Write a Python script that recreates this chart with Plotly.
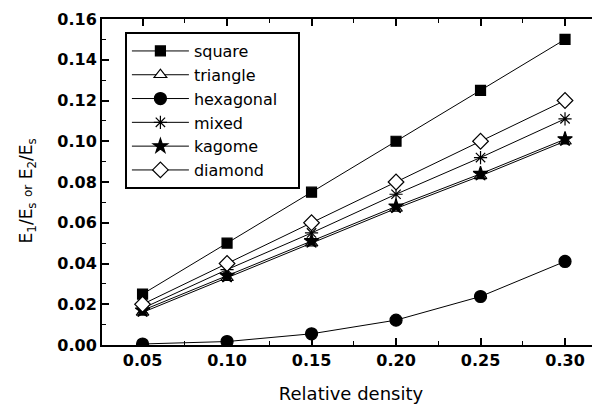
import plotly.graph_objects as go

density = [0.05, 0.10, 0.15, 0.20, 0.25, 0.30]
square = [0.025, 0.050, 0.075, 0.100, 0.125, 0.150]
triangle = [0.016, 0.033, 0.050, 0.067, 0.083, 0.100]
hexagonal = [0.0005, 0.0017, 0.0055, 0.0122, 0.0238, 0.0410]
mixed = [0.018, 0.037, 0.055, 0.074, 0.092, 0.111]
kagome = [0.017, 0.034, 0.051, 0.068, 0.084, 0.101]
diamond = [0.020, 0.040, 0.060, 0.080, 0.100, 0.120]

x_ticks = [0.05, 0.10, 0.15, 0.20, 0.25, 0.30]
x_labels = ["0.05", "0.10", "0.15", "0.20", "0.25", "0.30"]
y_ticks = [0, 0.02, 0.04, 0.06, 0.08, 0.10, 0.12, 0.14, 0.16]
y_labels = ["0.00", "0.02", "0.04", "0.06", "0.08", "0.10", "0.12", "0.14", "0.16"]

series = [
    ("square", square, "square", "black", 10),
    ("triangle", triangle, "triangle-up", "white", 11),
    ("hexagonal", hexagonal, "circle", "black", 12),
    ("mixed", mixed, "asterisk-open", "black", 11),
    ("kagome", kagome, "star", "black", 11),
    ("diamond", diamond, "diamond", "white", 12),
]

FONT = "DejaVu Sans, Verdana, Arial"
PAD = "\u00a0" * 3  # widens the legend box (invisible)

fig = go.Figure()
for name, vals, sym, fill, size in series:
    label = name + PAD if name == "hexagonal" else name
    fig.add_trace(go.Scatter(
        x=density, y=vals, name=label, mode="lines+markers",
        line=dict(color="black", width=1),
        marker=dict(symbol=sym, size=size, color=fill,
                    line=dict(color="black", width=1.2)),
    ))

tickfont = dict(family=FONT, size=16, color="black", weight="bold")

fig.update_layout(
    width=592, height=399,
    margin=dict(l=94, r=0, t=11, b=62),
    paper_bgcolor="white", plot_bgcolor="white",
    font=dict(family=FONT, color="black"),
    showlegend=True,
    legend=dict(
        x=0.046, y=0.96, xanchor="left", yanchor="top",
        bordercolor="black", borderwidth=2, bgcolor="white",
        font=dict(family=FONT, size=16, color="black"),
        itemwidth=57, tracegroupgap=0,
    ),
    xaxis=dict(
        range=[0.0260, 0.3207],
        tickvals=x_ticks, ticktext=x_labels,
        ticks="inside", ticklen=7, tickwidth=1.5, tickcolor="black",
        minor=dict(dtick=0.025, tick0=0.025, ticks="inside", ticklen=4,
                   tickwidth=1.2, tickcolor="black"),
        showline=True, linecolor="black", linewidth=2, mirror="allticks",
        showgrid=False, zeroline=False, automargin=False,
        tickfont=tickfont,
        title=dict(text="Relative density", font=dict(family=FONT, size=18, color="black"),
                   standoff=18),
    ),
    yaxis=dict(
        range=[0, 0.16],
        tickvals=y_ticks, ticktext=y_labels,
        ticks="inside", ticklen=7, tickwidth=1.5, tickcolor="black",
        minor=dict(dtick=0.01, tick0=0, ticks="inside", ticklen=4,
                   tickwidth=1.2, tickcolor="black"),
        showline=True, linecolor="black", linewidth=2, mirror="allticks",
        showgrid=False, zeroline=False, automargin=False,
        tickfont=tickfont,
    ),
    annotations=[dict(
        text="E<sub>1</sub>/E<sub>s</sub> <span style='font-size:12px'>or</span> E<sub>2</sub>/E<sub>s</sub>",
        xref="paper", yref="paper", x=-0.150, y=0.472,
        xanchor="center", yanchor="middle", textangle=-90, showarrow=False,
        font=dict(family=FONT, size=17, color="black"),
    )],
)

fig.write_html("out.html")
